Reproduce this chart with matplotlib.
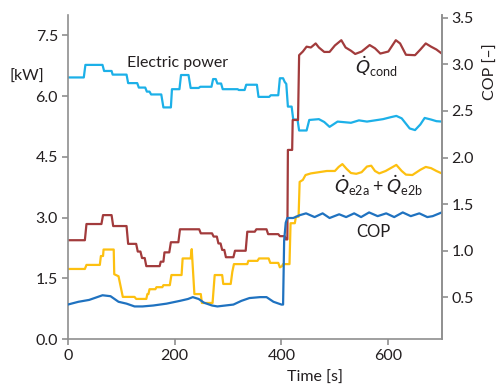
import matplotlib
matplotlib.use("Agg")
import matplotlib.pyplot as plt

plt.rcParams["font.family"] = ["Lato", "DejaVu Sans"]
plt.rcParams["mathtext.fontset"] = "custom"
plt.rcParams["mathtext.rm"] = "Lato"
plt.rcParams["mathtext.it"] = "DejaVu Sans:italic"

# --- data (time in s) ---
# electric power [kW], left axis
t_power = [0, 30, 33, 65, 68, 82, 84, 110, 113, 130, 133, 145, 148, 153, 156, 175, 179, 193,
           195, 209, 212, 226, 230, 245, 248, 269, 272, 277, 280, 287, 290, 318, 320, 331,
           334, 354, 357, 377, 380, 394, 397, 403, 406, 409, 412, 419, 422, 430, 433, 447,
           452, 470, 480, 490, 497, 505, 530, 545, 560, 575, 590, 605, 615, 625, 640, 650,
           660, 668, 680, 690, 700]
p_power = [6.46, 6.46, 6.77, 6.77, 6.62, 6.62, 6.53, 6.53, 6.32, 6.32, 6.21, 6.21, 6.11, 6.11,
           6.04, 6.04, 5.72, 5.72, 6.17, 6.17, 6.52, 6.52, 6.20, 6.20, 6.23, 6.23, 6.42, 6.42,
           6.31, 6.31, 6.17, 6.17, 6.15, 6.15, 6.28, 6.28, 5.98, 5.98, 6.02, 6.02, 6.44, 6.44,
           6.35, 6.30, 5.74, 5.74, 5.42, 5.42, 5.15, 5.15, 5.41, 5.43, 5.36, 5.24, 5.30, 5.37,
           5.34, 5.40, 5.37, 5.40, 5.43, 5.48, 5.51, 5.45, 5.20, 5.16, 5.30, 5.46, 5.42, 5.38,
           5.37]

# condenser heat Q_cond [kW], left axis
t_cond = [0, 32, 35, 63, 66, 82, 85, 110, 113, 128, 131, 136, 139, 144, 147, 172, 174, 179,
          181, 190, 193, 207, 210, 246, 249, 270, 273, 279, 282, 286, 289, 293, 296, 310,
          313, 333, 336, 350, 353, 372, 375, 394, 397, 406, 408, 411, 412, 420, 421, 431,
          433, 440, 447, 455, 464, 470, 480, 490, 500, 512, 520, 530, 538, 550, 565, 575,
          585, 600, 614, 622, 633, 650, 660, 670, 680, 690, 700]
q_cond = [2.44, 2.44, 2.84, 2.84, 3.06, 3.06, 2.79, 2.79, 2.35, 2.35, 2.16, 2.16, 2.00, 2.00,
          1.80, 1.80, 1.91, 1.91, 2.14, 2.14, 2.39, 2.39, 2.71, 2.71, 2.61, 2.61, 2.53, 2.53,
          2.36, 2.36, 2.20, 2.20, 2.02, 2.02, 2.18, 2.18, 2.65, 2.65, 2.71, 2.71, 2.59, 2.59,
          2.54, 2.54, 2.46, 2.46, 4.67, 4.67, 5.41, 5.41, 7.01, 7.10, 7.22, 7.20, 7.30, 7.20,
          7.09, 7.09, 7.25, 7.38, 7.20, 7.12, 7.04, 7.10, 7.26, 7.18, 7.05, 7.10, 7.38, 7.30,
          7.02, 7.01, 7.15, 7.30, 7.22, 7.15, 7.05]

# evaporator heat Q_e2a + Q_e2b [kW], left axis
t_evap = [0, 32, 35, 60, 62, 66, 67, 86, 87, 95, 103, 125, 128, 147, 149, 151, 153, 164,
          166, 177, 179, 191, 194, 213, 215, 230, 232, 237, 249, 251, 271, 275, 289, 291,
          305, 308, 311, 336, 338, 355, 358, 376, 379, 394, 397, 401, 403, 415, 417, 425,
          427, 432, 434, 440, 445, 455, 470, 485, 500, 507, 514, 522, 530, 540, 550, 560,
          568, 575, 583, 595, 607, 615, 625, 633, 645, 660, 670, 680, 690, 700]
q_evap = [1.73, 1.73, 1.83, 1.83, 2.05, 2.05, 2.21, 2.21, 1.60, 1.55, 1.04, 1.04, 0.99, 0.99,
          1.11, 1.11, 1.23, 1.23, 1.28, 1.28, 1.33, 1.33, 1.58, 1.58, 1.99, 1.99, 2.22, 1.11,
          1.11, 0.89, 0.89, 1.58, 1.58, 1.36, 1.36, 1.66, 1.85, 1.85, 1.93, 1.93, 1.99, 1.99,
          1.88, 1.88, 1.77, 1.80, 1.85, 1.85, 2.86, 2.86, 3.02, 3.02, 3.88, 3.93, 4.05, 4.09,
          4.12, 4.15, 4.15, 4.25, 4.32, 4.20, 4.10, 4.08, 4.12, 4.26, 4.28, 4.15, 4.09, 4.15,
          4.24, 4.30, 4.15, 4.06, 4.05, 4.18, 4.25, 4.22, 4.15, 4.09]

# COP [-], right axis
t_cop = [0, 20, 40, 55, 65, 80, 95, 110, 125, 140, 160, 185, 210, 225, 234, 245, 255, 270,
         280, 295, 310, 325, 340, 360, 372, 385, 400, 403, 405, 408, 411, 422, 434, 446,
         462, 477, 490, 508, 521, 536, 549, 564, 580, 596, 611, 627, 642, 658, 673, 683, 700]
cop = [0.42, 0.45, 0.47, 0.50, 0.52, 0.51, 0.45, 0.43, 0.40, 0.40, 0.41, 0.43, 0.46, 0.48,
       0.50, 0.48, 0.44, 0.41, 0.40, 0.41, 0.42, 0.46, 0.49, 0.50, 0.50, 0.45, 0.42, 0.42,
       1.11, 1.30, 1.35, 1.35, 1.38, 1.40, 1.36, 1.40, 1.35, 1.39, 1.36, 1.40, 1.36, 1.41,
       1.37, 1.40, 1.36, 1.41, 1.37, 1.40, 1.36, 1.37, 1.41]

left_ticks = [0.0, 1.5, 3.0, 4.5, 6.0, 7.5]
right_ticks = [0.5, 1.0, 1.5, 2.0, 2.5, 3.0, 3.5]
x_ticks = [0, 200, 400, 600]

C_POWER = "#1cb0e8"
C_COND = "#a23b3c"
C_EVAP = "#fdc010"
C_COP = "#1f72c0"
GREY = "#8f8f8f"
TXT = "#231f20"
LW = 1.6


def style_axis(ax):
    for side in ("left", "right", "bottom"):
        ax.spines[side].set_color(GREY)
        ax.spines[side].set_linewidth(1.2)
    ax.spines["top"].set_visible(False)
    ax.tick_params(direction="out", length=4, width=1.2, color=GREY,
                   labelcolor=TXT, labelsize=11.5, pad=3)


fig = plt.figure(figsize=(5.02, 3.87), dpi=100)
ax = fig.add_axes([0.135, 0.124, 0.745, 0.837])
ax2 = ax.twinx()

ax.plot(t_power, p_power, color=C_POWER, lw=LW)
ax.plot(t_cond, q_cond, color=C_COND, lw=LW)
ax.plot(t_evap, q_evap, color=C_EVAP, lw=LW)
ax2.plot(t_cop, cop, color=C_COP, lw=LW)

ax.set_xlim(0, 700)
ax.set_ylim(0, 8.0)
ax2.set_ylim(0.05, 3.53)
ax.set_xticks(x_ticks)
ax.set_yticks(left_ticks)
ax.set_yticklabels([f"{v:.1f}" for v in left_ticks])
ax2.set_yticks(right_ticks)
ax2.set_yticklabels([f"{v:.1f}" for v in right_ticks])

style_axis(ax)
style_axis(ax2)
ax2.spines["left"].set_visible(False)
ax2.spines["bottom"].set_visible(False)

# in-plot labels
ax.text(206, 6.81, "Electric power", color=TXT, fontsize=11.5, ha="center", va="center")
ax.text(578, 6.72, r"$\dot{Q}_{\mathrm{cond}}$", color=TXT, fontsize=13, ha="center", va="center")
ax.text(581, 3.78, r"$\dot{Q}_{\mathrm{e2a}} + \dot{Q}_{\mathrm{e2b}}$", color=TXT,
        fontsize=13, ha="center", va="center")
ax.text(572, 2.64, "COP", color=TXT, fontsize=12, ha="center", va="center")

# axis titles placed like the reference
fig.text(27 / 502, 1 - 77 / 387, "[kW]", color=TXT, fontsize=11.5, ha="center", va="center")
fig.text(491 / 502, 1 - 72 / 387, "COP [–]", color=TXT, fontsize=11.5, rotation=90,
         ha="center", va="center")
fig.text(315 / 502, 1 - 378 / 387, "Time [s]", color=TXT, fontsize=11.5, ha="center", va="center")

fig.savefig("out.png", dpi=100)
